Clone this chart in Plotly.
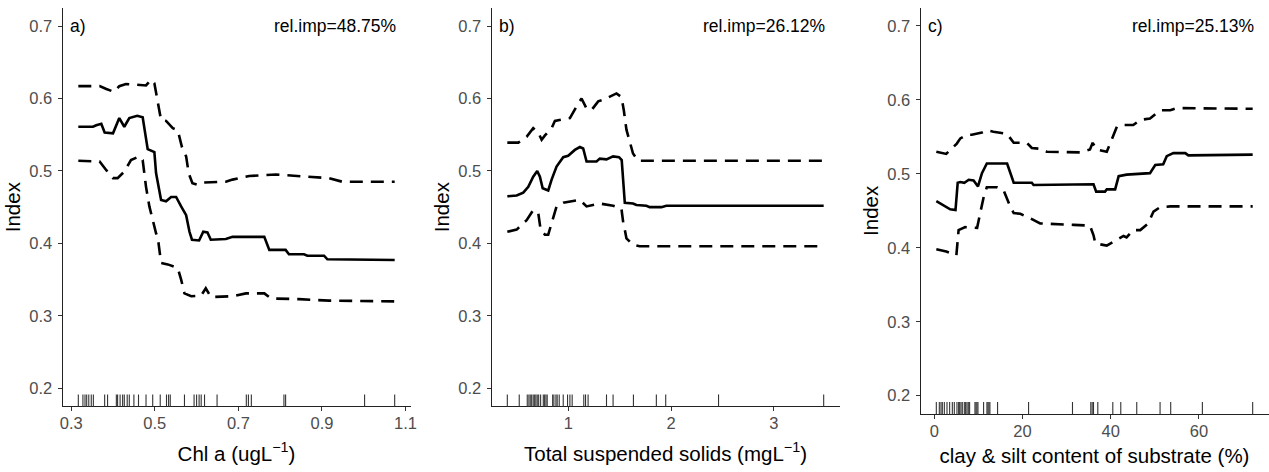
import plotly.graph_objects as go

# ---------------- data ----------------
# Panel a: Chl a
a_rug = [0.317, 0.328, 0.333, 0.337, 0.342, 0.348, 0.353, 0.380, 0.387, 0.408, 0.411,
         0.417, 0.423, 0.427, 0.434, 0.439, 0.450, 0.461, 0.479, 0.495, 0.513, 0.528,
         0.533, 0.537, 0.571, 0.594, 0.600, 0.606, 0.611, 0.619, 0.649, 0.719, 0.724,
         0.731, 0.809, 0.813, 1.002, 1.074]
a_fit_x = [0.317, 0.352, 0.360, 0.372, 0.380, 0.400, 0.415, 0.427, 0.439, 0.458, 0.471,
           0.479, 0.483, 0.499, 0.503, 0.515, 0.527, 0.539, 0.551, 0.563, 0.575, 0.583,
           0.589, 0.606, 0.616, 0.626, 0.634, 0.670, 0.686, 0.762, 0.774, 0.813, 0.821,
           0.857, 0.865, 0.905, 0.913, 1.074]
a_fit_y = [0.561, 0.561, 0.563, 0.565, 0.553, 0.552, 0.573, 0.561, 0.573, 0.576, 0.574,
           0.543, 0.530, 0.526, 0.497, 0.460, 0.458, 0.464, 0.464, 0.451, 0.439, 0.416,
           0.405, 0.404, 0.416, 0.415, 0.405, 0.406, 0.409, 0.409, 0.391, 0.391, 0.385,
           0.385, 0.383, 0.383, 0.378, 0.377]
a_hi_x = [0.317, 0.368, 0.384, 0.403, 0.415, 0.431, 0.479, 0.491, 0.499, 0.507, 0.515,
          0.527, 0.543, 0.555, 0.565, 0.575, 0.581, 0.590, 0.602, 0.614, 0.670, 0.686,
          0.726, 0.790, 0.917, 0.949, 1.074]
a_hi_y = [0.617, 0.617, 0.613, 0.609, 0.617, 0.620, 0.618, 0.626, 0.621, 0.598, 0.570,
          0.569, 0.559, 0.556, 0.533, 0.520, 0.497, 0.483, 0.481, 0.484, 0.485, 0.488,
          0.493, 0.495, 0.490, 0.485, 0.485]
a_lo_x = [0.317, 0.368, 0.384, 0.400, 0.411, 0.427, 0.443, 0.463, 0.471, 0.479, 0.487,
          0.495, 0.503, 0.507, 0.511, 0.515, 0.531, 0.555, 0.563, 0.571, 0.587, 0.611,
          0.622, 0.634, 0.686, 0.718, 0.762, 0.778, 0.845, 0.917, 1.074]
a_lo_y = [0.514, 0.513, 0.501, 0.490, 0.490, 0.499, 0.515, 0.520, 0.515, 0.478, 0.451,
          0.432, 0.414, 0.409, 0.391, 0.373, 0.371, 0.366, 0.350, 0.331, 0.327, 0.328,
          0.338, 0.326, 0.327, 0.331, 0.331, 0.324, 0.323, 0.321, 0.320]

# Panel b: Total suspended solids
b_rug = [0.406, 0.522, 0.600, 0.616, 0.629, 0.643, 0.658, 0.672, 0.684, 0.697, 0.711,
         0.730, 0.756, 0.769, 0.782, 0.794, 0.847, 0.859, 0.879, 0.891, 0.911, 0.950,
         0.992, 1.015, 1.037, 1.150, 1.167, 1.192, 1.371, 1.435, 1.633, 1.856, 1.947,
         2.461, 3.484]
b_fit_x = [0.406, 0.497, 0.561, 0.610, 0.658, 0.697, 0.723, 0.750, 0.804, 0.837, 0.885,
           0.950, 0.998, 1.063, 1.112, 1.144, 1.177, 1.274, 1.306, 1.371, 1.435, 1.493,
           1.519, 1.539, 1.549, 1.629, 1.662, 1.759, 1.791, 1.905, 1.953, 3.484]
b_fit_y = [0.465, 0.466, 0.470, 0.478, 0.492, 0.500, 0.492, 0.476, 0.473, 0.488, 0.506,
           0.519, 0.521, 0.529, 0.533, 0.531, 0.513, 0.513, 0.517, 0.516, 0.520, 0.519,
           0.515, 0.483, 0.456, 0.455, 0.453, 0.452, 0.450, 0.450, 0.452, 0.452]
b_hi_x = [0.406, 0.513, 0.594, 0.658, 0.707, 0.740, 0.772, 0.837, 0.869, 1.015, 1.080,
          1.128, 1.177, 1.225, 1.290, 1.338, 1.468, 1.516, 1.539, 1.565, 1.629, 1.678,
          3.484]
b_hi_y = [0.539, 0.539, 0.547, 0.559, 0.553, 0.543, 0.549, 0.559, 0.569, 0.573, 0.589,
          0.600, 0.586, 0.584, 0.596, 0.598, 0.607, 0.602, 0.584, 0.557, 0.524, 0.514,
          0.514]
b_lo_x = [0.406, 0.497, 0.594, 0.658, 0.707, 0.730, 0.772, 0.804, 0.837, 0.885, 0.950,
          1.112, 1.177, 1.306, 1.435, 1.516, 1.539, 1.549, 1.565, 1.629, 1.694, 3.484]
b_lo_y = [0.416, 0.419, 0.432, 0.446, 0.442, 0.419, 0.412, 0.412, 0.428, 0.451, 0.456,
          0.460, 0.451, 0.455, 0.452, 0.448, 0.423, 0.419, 0.407, 0.398, 0.396, 0.396]

# Panel c: clay & silt content
c_rug = [0.45, 1.13, 1.51, 1.81, 2.27, 2.87, 3.47, 4.08, 4.53, 5.13, 5.51, 5.74, 6.04,
         6.34, 6.80, 7.10, 7.40, 7.70, 8.00, 9.21, 9.44, 9.66, 9.89, 11.17, 11.93, 12.15,
         12.38, 12.60, 14.34, 21.37, 31.33, 35.48, 35.79, 36.09, 37.07, 40.47, 42.28,
         45.90, 51.19, 53.60, 60.78, 72.19]
c_fit_x = [0.45, 2.1, 3.6, 4.8, 5.3, 5.9, 6.8, 7.8, 8.9, 9.9, 10.8, 11.9, 16.5, 18.0,
           22.1, 22.5, 27.0, 31.6, 32.3, 36.1, 36.7, 38.7, 39.1, 41.0, 41.8, 43.6, 48.9,
           50.1, 51.9, 52.7, 54.2, 56.9, 57.6, 66.7, 67.4, 72.19]
c_fit_y = [0.463, 0.457, 0.452, 0.451, 0.488, 0.489, 0.488, 0.492, 0.491, 0.483, 0.501,
           0.514, 0.514, 0.488, 0.488, 0.485, 0.485, 0.485, 0.486, 0.486, 0.476, 0.476,
           0.479, 0.479, 0.497, 0.499, 0.501, 0.512, 0.513, 0.524, 0.528, 0.528, 0.525,
           0.525, 0.526, 0.526]
c_hi_x = [0.45, 2.7, 5.1, 5.9, 7.4, 8.5, 10.8, 11.9, 13.4, 16.5, 18.0, 21.0, 22.1, 24.0,
          25.5, 33.1, 35.3, 35.9, 36.8, 39.1, 40.2, 41.4, 42.9, 45.1, 46.7, 48.9, 51.2,
          53.5, 55.0, 72.19]
c_hi_y = [0.530, 0.527, 0.541, 0.548, 0.553, 0.553, 0.556, 0.559, 0.557, 0.554, 0.542,
          0.542, 0.535, 0.534, 0.530, 0.529, 0.533, 0.542, 0.533, 0.530, 0.546, 0.564,
          0.566, 0.566, 0.573, 0.575, 0.586, 0.586, 0.589, 0.588]
c_lo_x = [0.45, 2.7, 5.0, 5.5, 7.0, 9.7, 10.4, 11.2, 11.9, 14.2, 15.7, 17.2, 18.0, 19.5,
          21.7, 24.0, 31.6, 35.3, 36.1, 36.5, 39.1, 41.4, 42.9, 43.6, 45.1, 46.7, 48.5,
          49.7, 51.2, 53.5, 72.19]
c_lo_y = [0.398, 0.395, 0.390, 0.424, 0.428, 0.427, 0.447, 0.469, 0.482, 0.482, 0.478,
          0.456, 0.447, 0.446, 0.440, 0.433, 0.431, 0.430, 0.417, 0.406, 0.403, 0.411,
          0.416, 0.414, 0.424, 0.424, 0.433, 0.449, 0.455, 0.456, 0.456]

panel_labels = ["a)", "b)", "c)"]
rel_imp = ["rel.imp=48.75%", "rel.imp=26.12%", "rel.imp=25.13%"]
x_titles = ["Chl a (ugL<sup>\u22121</sup>)",
            "Total suspended solids (mgL<sup>\u22121</sup>)",
            "clay &amp; silt content of substrate (%)"]
x_ticks = [[0.3, 0.5, 0.7, 0.9, 1.1], [1, 2, 3], [0, 20, 40, 60]]
y_ticks = [0.2, 0.3, 0.4, 0.5, 0.6, 0.7]
y_limits = [0.2, 0.7]

# ---------------- figure ----------------
W, H = 1269, 472
FONT = "Liberation Sans, Arial, sans-serif"
TICKCOL = "#4D4D4D"
LINECOL = "#222222"
TITLE_SIZE = 20.5
ANNOT_SIZE = 17.5
TICK_SIZE = 16.5
DASH = "13px,8px"

panels = [
    (a_rug, a_fit_x, a_fit_y, a_hi_x, a_hi_y, a_lo_x, a_lo_y),
    (b_rug, b_fit_x, b_fit_y, b_hi_x, b_hi_y, b_lo_x, b_lo_y),
    (c_rug, c_fit_x, c_fit_y, c_hi_x, c_hi_y, c_lo_x, c_lo_y),
]
# pixel layout of the panels (left, right, top, bottom)
px_boxes = [(62.5, 410.5, 7.9, 406.4), (491.5, 839.5, 7.9, 406.4), (920.5, 1268.5, 7.5, 414.2)]
x_title_standoff = [15, 15, 9]

fig = go.Figure()
layout = dict(
    width=W, height=H, margin=dict(l=0, r=0, t=0, b=0, autoexpand=False),
    paper_bgcolor="white", plot_bgcolor="white", showlegend=False,
    font=dict(family=FONT, color="black"),
)
annotations = []
shapes = []

yr = y_limits[1] - y_limits[0]
y_range = [y_limits[0] - 0.05 * yr, y_limits[1] + 0.05 * yr]

for i, (rug, fx, fy, hx, hy, lx, ly) in enumerate(panels):
    xa = "x" if i == 0 else f"x{i+1}"
    ya = "y" if i == 0 else f"y{i+1}"
    xkey = "xaxis" if i == 0 else f"xaxis{i+1}"
    ykey = "yaxis" if i == 0 else f"yaxis{i+1}"
    l, r, t, b = px_boxes[i]
    xmin, xmax = min(rug), max(rug)
    xr = xmax - xmin
    x_range = [xmin - 0.05 * xr, xmax + 0.05 * xr]

    for xs, ys, dash in [(hx, hy, DASH), (lx, ly, DASH), (fx, fy, "solid")]:
        fig.add_trace(go.Scatter(x=xs, y=ys, mode="lines", xaxis=xa, yaxis=ya,
                                 line=dict(color="black", width=2.6, dash=dash),
                                 hoverinfo="skip"))

    for v in rug:
        shapes.append(dict(type="line", xref=xa, yref=f"{ya} domain", x0=v, x1=v,
                           y0=0, y1=0.03, line=dict(color="#333333", width=1.1)))

    common = dict(showgrid=False, zeroline=False, showline=True, linecolor=LINECOL,
                  linewidth=1, ticks="outside", ticklen=4, tickwidth=1, automargin=False,
                  tickcolor="#333333", tickfont=dict(family=FONT, size=TICK_SIZE, color=TICKCOL))
    layout[xkey] = dict(domain=[l / W, r / W], range=x_range, anchor=ya,
                        tickvals=x_ticks[i], ticklabelstandoff=-2,
                        title=dict(text=x_titles[i], font=dict(family=FONT, size=TITLE_SIZE, color="black"),
                                   standoff=x_title_standoff[i]),
                        **common)
    layout[ykey] = dict(domain=[(H - b) / H, (H - t) / H], range=y_range, anchor=xa,
                        tickvals=y_ticks, tickformat=".1f", ticklabelstandoff=2,
                        title=dict(text="Index", font=dict(family=FONT, size=TITLE_SIZE, color="black"),
                                   standoff=3),
                        **common)

    annotations.append(dict(text=panel_labels[i], xref=f"{xa} domain", yref=ya, x=0, y=0.7,
                            xshift=5, xanchor="left", yanchor="middle", showarrow=False,
                            font=dict(family=FONT, size=ANNOT_SIZE, color="black")))
    annotations.append(dict(text=rel_imp[i], xref=xa, yref=ya, x=xmax, y=0.7, xshift=3,
                            xanchor="right", yanchor="middle", showarrow=False,
                            font=dict(family=FONT, size=ANNOT_SIZE, color="black")))

layout["annotations"] = annotations
layout["shapes"] = shapes
fig.update_layout(**layout)
fig.write_html("out.html", config={"displayModeBar": False},
               post_script="document.body.style.margin='0px';document.body.style.overflow='hidden';")
